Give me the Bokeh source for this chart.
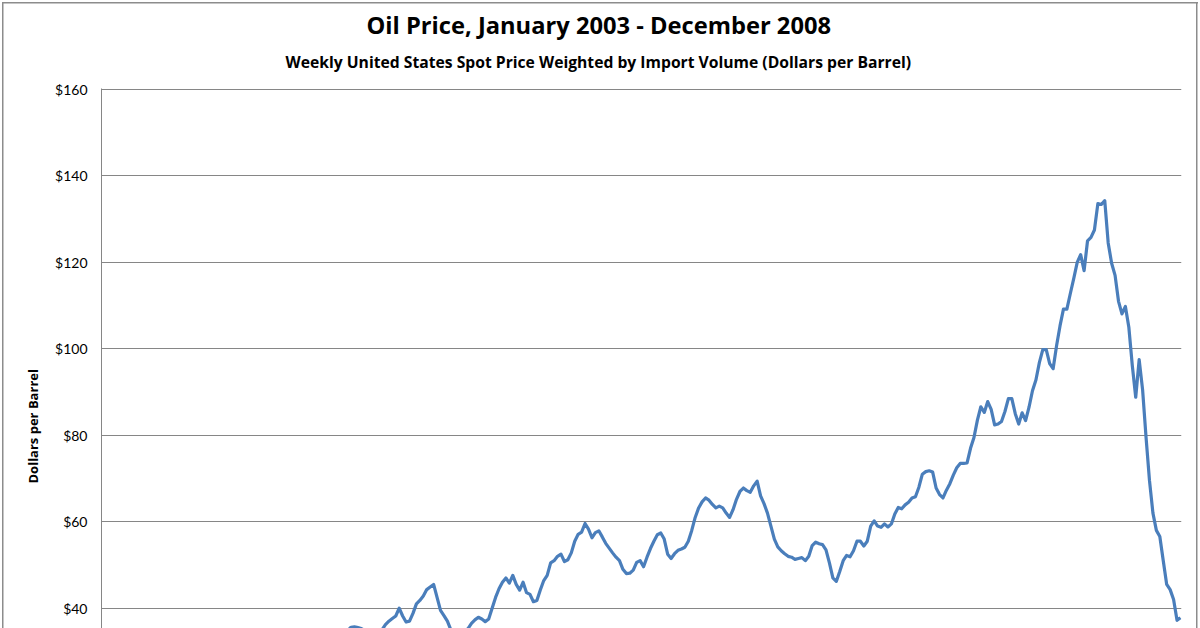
import math
from bokeh.plotting import figure
from bokeh.models import Range1d, FixedTicker, Title
from bokeh.embed import file_html
from bokeh.resources import INLINE

# Weekly import-weighted US spot price, Jan 2003 - Dec 2008 (dollars per barrel)
prices = [
    29.5, 30.2, 30.5, 30.8, 31.0, 31.5, 32.0, 32.8, 33.2,
    32.5, 31.8, 30.0, 27.2, 25.8,
    25.0, 24.5, 24.2, 24.0, 24.6, 25.2,
    26.0, 26.4, 26.8, 26.5, 27.0, 27.2,
    27.5, 27.8, 27.4, 27.6, 28.0, 28.4, 28.6, 28.2, 27.6,
    26.5, 25.4, 24.9, 25.6, 26.8,
    27.6, 27.8, 27.0, 26.6, 27.2, 27.8, 28.0, 27.4,
    28.2, 28.9, 29.4, 29.0,
    29.8, 30.4, 30.8, 30.2, 29.6,
    30.6, 31.2, 31.8, 32.6,
    32.8, 32.2, 31.5, 32.5, 33.2,
    33.8, 34.5, 34.8, 34.2,
    34.0, 34.8, 35.6, 35.7, 35.5, 35.3, 34.8, 34.3, 34.0, 34.2,
    34.5, 35.0, 36.2, 37.0, 37.6, 38.2, 40.0, 38.2, 36.8, 37.0,
    38.8, 41.0, 41.8, 42.8, 44.3, 44.9, 45.5, 42.5, 39.5, 38.3,
    37.0, 35.0, 34.0, 33.3, 33.5, 34.3, 35.3, 36.5, 37.3, 37.9,
    37.5, 36.9, 37.5, 40.0, 42.5, 44.5, 46.0, 47.0, 45.8, 47.6,
    45.5, 44.2, 46.0, 43.6, 43.2, 41.5, 41.8, 44.2, 46.4, 47.6,
    50.5, 51.0, 52.0, 52.5, 50.8, 51.2, 52.8, 55.5, 57.1, 57.6,
    59.6, 58.3, 56.3, 57.5, 57.9, 56.5, 55.0, 53.9, 52.8, 51.8,
    51.0, 49.0, 48.0, 48.1, 48.8, 50.6, 51.0, 49.6, 51.8, 53.8,
    55.5, 57.0, 57.4, 56.0, 52.5, 51.5, 52.6, 53.4, 53.7, 54.1,
    55.5, 58.0, 61.0, 63.2, 64.6, 65.5, 65.0, 64.0, 63.2, 63.6,
    63.2, 62.0, 61.0, 62.8, 65.2, 67.0, 67.8, 67.2, 66.8, 68.3,
    69.4, 66.0, 64.2, 62.0, 59.0, 56.0, 54.2, 53.3, 52.6, 52.0,
    51.8, 51.3, 51.5, 51.7, 51.0, 52.0, 54.5, 55.3, 54.9, 54.7,
    53.5, 50.5, 47.0, 46.2, 48.5, 51.0, 52.2, 51.9, 53.3, 55.5,
    55.5, 54.4, 55.5, 59.0, 60.2, 59.0, 58.7, 59.5, 58.8, 59.5,
    61.8, 63.3, 63.0, 63.9, 64.5, 65.5, 65.8, 68.0, 71.0, 71.6,
    71.8, 71.5, 67.8, 66.3, 65.5, 67.3, 68.8, 70.8, 72.5, 73.5,
    73.5, 73.6, 77.0, 79.5, 83.5, 86.6, 85.3, 87.8, 86.0, 82.4,
    82.6, 83.2, 85.5, 88.5, 88.5, 85.0, 82.6, 85.2, 83.4, 86.5,
    90.3, 92.8, 96.8, 99.8, 99.8, 96.6, 95.4, 100.7, 105.3, 109.2,
    109.2, 112.8, 116.3, 120.0, 121.8, 118.1, 125.0, 125.8, 127.5, 133.6,
    133.4, 134.3, 124.5, 119.8, 117.0, 111.0, 108.1, 109.8, 105.0, 96.2,
    88.8, 97.5, 90.5, 79.5, 69.5, 62.0, 58.0, 56.6, 51.0, 45.5,
    44.3, 42.0, 37.2, 37.8,
]
weeks = list(range(len(prices)))

y_ticks = [0, 20, 40, 60, 80, 100, 120, 140, 160]
y_tick_labels = ["$0", "$20", "$40", "$60", "$80", "$100", "$120", "$140", "$160"]

title_text = "Oil Price, January 2003 - December 2008"
subtitle_text = "Weekly United States Spot Price Weighted by Import Volume (Dollars per Barrel)"
y_label_text = "Dollars per Barrel"

# ---- layout geometry (pixels) ----
W, H = 1200, 628
FL, FR, FT, FB = 101, 1181, 88, 628
PX_PER_DOLLAR = 4.3225
Y160_PX = 89
y_end = 160 + (Y160_PX - FT) / PX_PER_DOLLAR
y_start = 160 - (FB - Y160_PX) / PX_PER_DOLLAR
x_start, x_end = -0.5, 313.3

p = figure(width=W, height=H, output_backend="svg", toolbar_location=None,
           x_range=Range1d(x_start, x_end), y_range=Range1d(y_start, y_end),
           x_axis_location=None,
           min_border_left=FL, min_border_right=W - FR,
           min_border_top=FT, min_border_bottom=0)

p.border_fill_color = None
p.background_fill_color = "white"
p.outline_line_color = None
p.styles = {
    "background-color": "white",
    "background-image": ("linear-gradient(#8c8c8c,#8c8c8c), "
                         "linear-gradient(#8c8c8c,#8c8c8c), "
                         "linear-gradient(#8c8c8c,#8c8c8c)"),
    "background-size": "1.5px 100%, 1196px 1.5px, 1.5px 100%",
    "background-position": "2px 2px, 2px 2px, 1196px 2px",
    "background-repeat": "no-repeat",
}

# main title on top (plot title), subtitle stacked between it and the frame
p.title.text = title_text
p.title.align = "left"
p.title.offset = 265
p.title.text_font = "Open Sans"
p.title.text_font_style = "bold"
p.title.text_font_size = "23.7px"
p.title.text_color = "#000000"
p.title.standoff = -15

sub_title = Title(text=subtitle_text, align="left", offset=184, text_font="Open Sans",
                  text_font_style="bold", text_font_size="15.7px",
                  text_color="#000000", standoff=31)
p.add_layout(sub_title, "above")

y_title = Title(text=y_label_text, align="left", offset=145, text_font="Open Sans",
                text_font_style="bold", text_font_size="13px",
                text_color="#000000", standoff=21)
p.add_layout(y_title, "left")

p.xgrid.visible = False
p.ygrid.grid_line_color = "#868686"
p.ygrid.grid_line_width = 1

ax = p.yaxis[0]
ax.ticker = FixedTicker(ticks=y_ticks)
ax.major_label_overrides = {t: l for t, l in zip(y_ticks, y_tick_labels)}
ax.axis_line_color = "#868686"
ax.axis_line_width = 1
ax.major_tick_out = 0
ax.major_tick_in = 0
ax.minor_tick_out = 0
ax.minor_tick_in = 0
ax.major_label_standoff = 14
ax.major_label_text_font = "Lato"
ax.major_label_text_font_size = "14px"
ax.major_label_text_color = "#000000"

p.line(weeks, prices, line_color="#4A7EBB", line_width=3.2, line_join="round")

open("out.html", "w").write(file_html(p, INLINE))
